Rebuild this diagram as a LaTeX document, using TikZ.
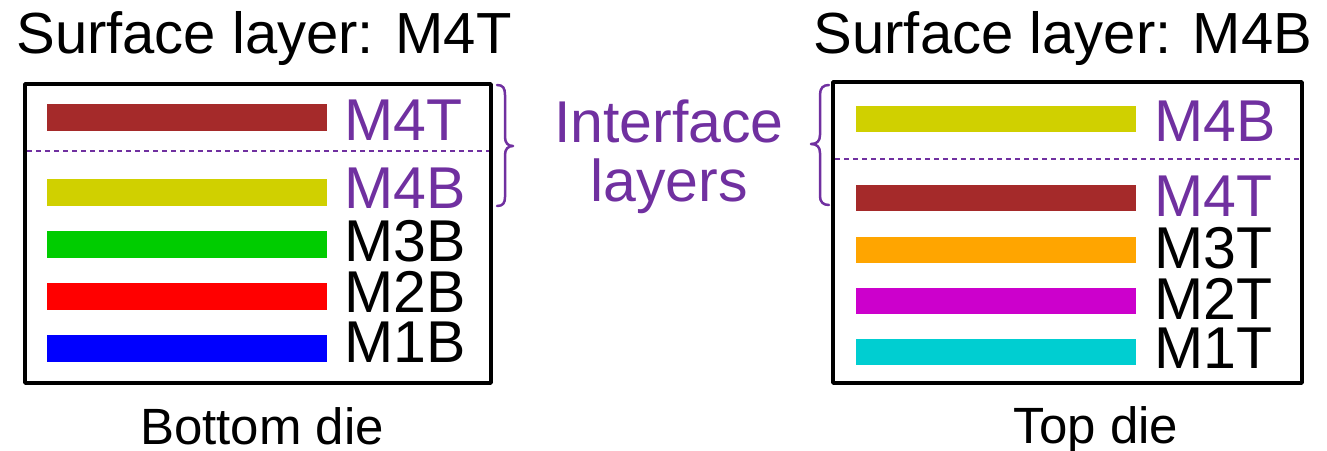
\documentclass[tikz,border=0pt]{standalone}
\usepackage{fontspec}
\setmainfont{Liberation Sans}
\definecolor{ifpurple}{HTML}{7030A0}
\definecolor{mbrown}{HTML}{A52A2A}
\definecolor{myellow}{HTML}{D0D000}
\definecolor{mgreen}{HTML}{00CC00}
\definecolor{mred}{HTML}{FF0000}
\definecolor{mblue}{HTML}{0000FF}
\definecolor{morange}{HTML}{FFA500}
\definecolor{mmagenta}{HTML}{CC00CC}
\definecolor{mcyan}{HTML}{00CED1}
\begin{document}
\begin{tikzpicture}[x=1pt,y=-1pt,
  diebox/.style={draw=black,line width=3.5pt,line join=round},
  layerlabel/.style={anchor=base west,inner sep=0pt,text height=43pt,text depth=0pt,
    font=\fontsize{59}{60}\selectfont},
  titletext/.style={anchor=base,inner sep=0pt,text height=43pt,text depth=0pt,
    font=\fontsize{58}{60}\selectfont},
  dielabel/.style={anchor=base,inner sep=0pt,text height=37pt,text depth=0pt,
    font=\fontsize{51}{54}\selectfont},
  split/.style={draw=ifpurple,line width=2.5pt,dash pattern=on 5pt off 4pt},
  brace/.style={draw=ifpurple,line width=2.5pt,line cap=round,line join=round}]
\useasboundingbox (0,0) rectangle (1327,450);

% titles
\node[titletext] (tl) at (264,53) {Surface layer: M4T};
\node[titletext] (tr) at (1063,53) {Surface layer: M4B};

% bottom die
\draw[diebox] (25,84) rectangle (491,383);
\fill[mbrown]  (47,104) rectangle (327,131);
\fill[myellow] (47,179) rectangle (327,206);
\fill[mgreen]  (47,231) rectangle (327,258);
\fill[mred]    (47,283) rectangle (327,310);
\fill[mblue]   (47,335) rectangle (327,362);
\draw[split] (27,151) -- (489,151);
\node[layerlabel,text=ifpurple] (lm4t) at (344,140) {M4T};
\node[layerlabel,text=ifpurple] (lm4b) at (344,208) {M4B};
\node[layerlabel] (lm3b) at (344,261) {M3B};
\node[layerlabel] (lm2b) at (344,312) {M2B};
\node[layerlabel] (lm1b) at (344,362) {M1B};
\node[dielabel] (bd) at (262,444) {Bottom die};

% top die
\draw[diebox] (833,82) rectangle (1302,383);
\fill[myellow]  (856,106) rectangle (1136,132);
\fill[mbrown]   (856,185) rectangle (1136,211);
\fill[morange]  (856,237) rectangle (1136,263);
\fill[mmagenta] (856,288) rectangle (1136,314);
\fill[mcyan]    (856,339) rectangle (1136,365);
\draw[split] (835,159) -- (1300,159);
\node[layerlabel,text=ifpurple] (rm4b) at (1154,141) {M4B};
\node[layerlabel,text=ifpurple] (rm4t) at (1154,216) {M4T};
\node[layerlabel] (rm3t) at (1154,268) {M3T};
\node[layerlabel] (rm2t) at (1154,319) {M2T};
\node[layerlabel] (rm1t) at (1154,368) {M1T};
\node[dielabel] (td) at (1096,443) {Top die};

% interface braces and label
\draw[brace] (497,85) .. controls (503,85) and (505,88) .. (505,95)
  -- (505,137) .. controls (505,143) and (508,146) .. (513,146)
  .. controls (508,146) and (505,149) .. (505,155)
  -- (505,197) .. controls (505,203) and (503,206) .. (497,206);
\draw[brace] (829,85) .. controls (823,85) and (820,88) .. (820,95)
  -- (820,135) .. controls (820,141) and (817,144) .. (811,144)
  .. controls (817,144) and (820,147) .. (820,153)
  -- (820,196) .. controls (820,202) and (823,205) .. (829,205);
\node[titletext,text=ifpurple,font=\fontsize{59}{60}\selectfont] (if1) at (669,142) {Interface};
\node[titletext,text=ifpurple,font=\fontsize{59}{60}\selectfont] (if2) at (669,201) {layers};
\end{tikzpicture}
\end{document}
